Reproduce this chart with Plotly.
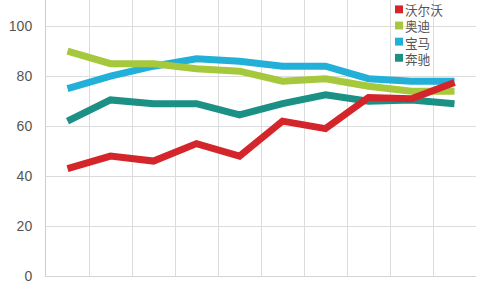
import plotly.graph_objects as go

categories = list(range(10))
series_names = ["沃尔沃", "奥迪", "宝马", "奔驰"]
volvo = [43, 48, 46, 53, 48, 62, 59, 71.5, 71, 77.5]
audi = [90, 85, 85, 83, 82, 78, 79, 76, 74, 74]
bmw = [75, 80, 84, 87, 86, 84, 84, 79, 78, 78]
benz = [62, 70.5, 69, 69, 64.5, 69, 72.5, 70, 70.5, 69]
y_ticks = [0, 20, 40, 60, 80, 100]

colors = {"沃尔沃": "#d4252b", "奥迪": "#a6c83c", "宝马": "#22b0d9", "奔驰": "#1b9185"}
data = {"沃尔沃": volvo, "奥迪": audi, "宝马": bmw, "奔驰": benz}

fig = go.Figure()
for name in ["奔驰", "宝马", "奥迪", "沃尔沃"]:
    fig.add_trace(go.Scatter(
        x=categories, y=data[name], mode="lines", name=name,
        line=dict(color=colors[name], width=7),
        showlegend=False,
    ))

W, H = 500, 284
ml, mr, mt, mb = 46, 24, 0, 4
pw, ph = W - ml - mr, H - mt - mb

def px_to_paper(px, py):
    return (px - ml) / pw, (H - mb - py) / ph

legend_font = 12.6
line_gap = 1.3 * legend_font
first_row = 9.5
row_y = [first_row + i * line_gap for i in range(len(series_names))]

shapes = []
for name, ry in zip(series_names, row_y):
    x0, y0 = px_to_paper(395, ry + 4)
    x1, y1 = px_to_paper(403, ry - 4)
    shapes.append(dict(type="rect", xref="paper", yref="paper", x0=x0, x1=x1, y0=y0, y1=y1,
                       fillcolor=colors[name], line=dict(width=0), layer="above"))

tx, ty = px_to_paper(404, (row_y[0] + row_y[-1]) / 2)
annotations = [dict(text="<br>".join(series_names), xref="paper", yref="paper", x=tx, y=ty,
                    xanchor="left", yanchor="middle", align="left", showarrow=False,
                    borderpad=0,
                    font=dict(family="Noto Sans CJK SC", size=legend_font, color="#555"))]

fig.update_layout(
    width=W, height=H,
    margin=dict(l=ml, r=mr, t=mt, b=mb, pad=0),
    paper_bgcolor="white", plot_bgcolor="white",
    showlegend=False,
    shapes=shapes, annotations=annotations,
    xaxis=dict(range=[-0.5, 9.5], tickvals=[i + 0.5 for i in range(9)],
               showticklabels=False, showgrid=True, gridcolor="#dcdcdc", gridwidth=1,
               zeroline=False, showline=True, linecolor="#d4d4d4", linewidth=1, ticks=""),
    yaxis=dict(range=[0, 110.5], tickvals=y_ticks, showgrid=True, gridcolor="#dcdcdc",
               gridwidth=1, zeroline=False, showline=True, linecolor="#cfcfcf", linewidth=1,
               ticks="", ticklabelstandoff=10, ticklabeloverflow="allow",
               tickfont=dict(family="Liberation Sans", size=14, color="#555")),
)

fig.write_html("out.html")
